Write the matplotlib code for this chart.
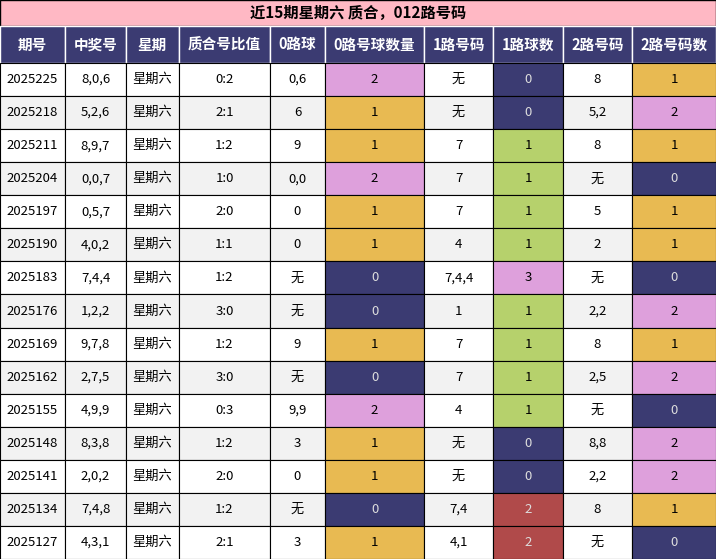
import matplotlib
matplotlib.use("Agg")
import matplotlib.pyplot as plt
from matplotlib.patches import Rectangle

plt.rcParams["font.family"] = "Noto Sans CJK SC"

title = "近15期星期六 质合，012路号码"
headers = ["期号", "中奖号", "星期", "质合号比值", "0路球", "0路号球数量",
           "1路号码", "1路球数", "2路号码", "2路号码数"]

issues = ["2025225", "2025218", "2025211", "2025204", "2025197", "2025190", "2025183",
          "2025176", "2025169", "2025162", "2025155", "2025148", "2025141", "2025134", "2025127"]
numbers = ["8,0,6", "5,2,6", "8,9,7", "0,0,7", "0,5,7", "4,0,2", "7,4,4", "1,2,2",
           "9,7,8", "2,7,5", "4,9,9", "8,3,8", "2,0,2", "7,4,8", "4,3,1"]
weekday = ["星期六"] * 15
ratio = ["0:2", "2:1", "1:2", "1:0", "2:0", "1:1", "1:2", "3:0", "1:2", "3:0",
         "0:3", "1:2", "2:0", "1:2", "2:1"]
road0 = ["0,6", "6", "9", "0,0", "0", "0", "无", "无", "9", "无", "9,9", "3", "0", "无", "3"]
road0_cnt = [2, 1, 1, 2, 1, 1, 0, 0, 1, 0, 2, 1, 1, 0, 1]
road1 = ["无", "无", "7", "7", "7", "4", "7,4,4", "1", "7", "7", "4", "无", "无", "7,4", "4,1"]
road1_cnt = [0, 0, 1, 1, 1, 1, 3, 1, 1, 1, 1, 0, 0, 2, 2]
road2 = ["8", "5,2", "8", "无", "5", "2", "无", "2,2", "8", "2,5", "无", "8,8", "2,2", "8", "无"]
road2_cnt = [1, 2, 1, 0, 1, 1, 0, 2, 1, 2, 0, 2, 2, 1, 0]

col_edges = [0, 65, 126, 179, 270, 325, 424, 493, 563, 632, 716]
W, H = 716, 559
title_h, head_h = 26, 37
row_h = (H - title_h - head_h) / len(issues)

NAVY = "#3b3b72"
GOLD = "#e8ba52"
PLUM = "#dea0dc"
GREEN = "#b6d16c"
RED = "#b04a4a"
cnt_colors = {0: NAVY, 1: GOLD, 2: PLUM, 3: PLUM}
road1_colors = {0: NAVY, 1: GREEN, 2: RED, 3: PLUM}

fig = plt.figure(figsize=(W / 100, H / 100), dpi=100)
ax = fig.add_axes([0, 0, 1, 1])
ax.set_xlim(0, W)
ax.set_ylim(H, 0)
ax.axis("off")

ax.add_patch(Rectangle((0, 0), W, title_h, facecolor="#ffb8c4", edgecolor="black", lw=1))
ax.text(W / 2, title_h / 2, title, ha="center", va="center", fontsize=11, fontweight="bold")

for j, h in enumerate(headers):
    x0, x1 = col_edges[j], col_edges[j + 1]
    ax.add_patch(Rectangle((x0, title_h), x1 - x0, head_h, facecolor=NAVY,
                           edgecolor="white", lw=1))
    ax.text((x0 + x1) / 2, title_h + head_h / 2, h, ha="center", va="center",
            fontsize=10.5, fontweight="bold", color="white")

cols = [issues, numbers, weekday, ratio, road0, road0_cnt, road1, road1_cnt, road2, road2_cnt]
for i in range(len(issues)):
    y0 = title_h + head_h + i * row_h
    base = "white" if i % 2 == 0 else "#f2f2f2"
    for j, col in enumerate(cols):
        x0, x1 = col_edges[j], col_edges[j + 1]
        val = col[i]
        fc, tc = base, "black"
        if j in (5, 9):
            fc = cnt_colors[val]
        elif j == 7:
            fc = road1_colors[val]
        if fc in (NAVY, RED):
            tc = "#dddddd"
        ax.add_patch(Rectangle((x0, y0), x1 - x0, row_h, facecolor=fc,
                               edgecolor="black", lw=0.8))
        ax.text((x0 + x1) / 2, y0 + row_h / 2, str(val), ha="center", va="center",
                fontsize=9.5, color=tc)

fig.savefig("out.png", dpi=100)
